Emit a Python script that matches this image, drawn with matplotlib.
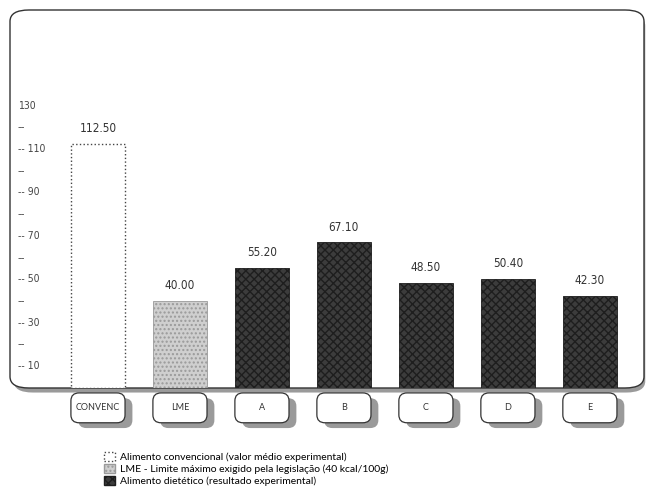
import numpy as np
import matplotlib
matplotlib.use("Agg")
from matplotlib import pyplot as plt
from matplotlib.patches import FancyBboxPatch, Patch
from matplotlib.transforms import blended_transform_factory

categories = ["CONVENC", "LME", "A", "B", "C", "D", "E"]
values = [112.50, 40.00, 55.20, 67.10, 48.50, 50.40, 42.30]
kinds = ["conv", "lme", "diet", "diet", "diet", "diet", "diet"]
tick_labels = [10, 30, 50, 70, 90, 110, 130]
minor_ticks = [20, 40, 60, 80, 100, 120]
legend_labels = ["Alimento convencional (valor médio experimental)",
                 "LME - Limite máximo exigido pela legislação (40 kcal/100g)",
                 "Alimento dietético (resultado experimental)"]

plt.rcParams["font.family"] = ["DejaVu Sans"]

styles = {
    "conv": dict(facecolor="white", edgecolor="#444444", linestyle=":",
                 linewidth=1.0, hatch=None),
    "lme": dict(facecolor="#cfcfcf", edgecolor="#9a9a9a", linestyle="-",
                linewidth=0.6, hatch="...."),
    "diet": dict(facecolor="#3c3c3c", edgecolor="#1e1e1e", linestyle="-",
                 linewidth=0.6, hatch="xxxx"),
}

fig = plt.figure(figsize=(6.52, 4.95), dpi=100)
ax = fig.add_axes([10 / 652, 1 - 388 / 495, 634 / 652, 378 / 495])
ax.set_xlim(-1.073, 6.66)
ax.set_ylim(0, 174)
ax.set_axis_off()

# rounded frame with shadow
shadow = FancyBboxPatch((0.006, -0.012), 0.996, 1.0,
                        boxstyle="round,pad=0,rounding_size=0.03",
                        transform=ax.transAxes, facecolor="#9a9a9a",
                        edgecolor="none", clip_on=False, zorder=0,
                        hatch="....")
ax.add_patch(shadow)
frame = FancyBboxPatch((0, 0), 1.0, 1.0,
                       boxstyle="round,pad=0,rounding_size=0.03",
                       transform=ax.transAxes, facecolor="white",
                       edgecolor="#333333", linewidth=1.0, linestyle="-",
                       clip_on=False, zorder=0.5)
ax.add_patch(frame)

x = np.arange(len(categories))
for xi, v, k in zip(x, values, kinds):
    s = styles[k]
    ax.bar(xi, v, width=0.65, color=s["facecolor"], edgecolor=s["edgecolor"],
           linestyle=s["linestyle"], linewidth=s["linewidth"], hatch=s["hatch"],
           zorder=2)
    ax.text(xi, v + 4, f"{v:.2f}", ha="center", va="bottom", fontsize=8.5,
            fontstretch="condensed", color="#333333", zorder=3)

# y axis marks drawn inside the frame
tr = blended_transform_factory(ax.transAxes, ax.transData)
for t in tick_labels:
    prefix = "" if t == 130 else "-- "
    ax.text(0.012, t, f"{prefix}{t}", transform=tr, ha="left", va="center",
            fontsize=7.5, fontstretch="condensed", color="#444444")
for t in minor_ticks:
    ax.text(0.012, t, "--", transform=tr, ha="left", va="center",
            fontsize=7.5, color="#444444")

# category boxes under the frame
btr = blended_transform_factory(ax.transData, ax.transAxes)
box_w = 0.66
box_h = 0.079
box_style = "round,pad=0,rounding_size=0.1"
for xi, c in zip(x, categories):
    sh = FancyBboxPatch((xi - box_w / 2 + 0.09, -0.013 - box_h - 0.014),
                        box_w, box_h, boxstyle=box_style, mutation_aspect=0.21,
                        transform=btr, facecolor="#9a9a9a", edgecolor="none",
                        hatch="....", clip_on=False, zorder=1)
    ax.add_patch(sh)
    bx = FancyBboxPatch((xi - box_w / 2, -0.013 - box_h), box_w, box_h,
                        boxstyle=box_style, mutation_aspect=0.21,
                        transform=btr, facecolor="white", edgecolor="#333333",
                        linewidth=0.9, clip_on=False, zorder=4)
    ax.add_patch(bx)
    ax.text(xi, -0.013 - box_h / 2, c, transform=btr, ha="center",
            va="center", fontsize=6.5, color="#333333",
            family=["Lato", "DejaVu Sans"], clip_on=False, zorder=5)

handles = [Patch(facecolor=styles[k]["facecolor"],
                 edgecolor=styles[k]["edgecolor"],
                 linestyle=styles[k]["linestyle"], hatch=styles[k]["hatch"])
           for k in ["conv", "lme", "diet"]]
fig.legend(handles, legend_labels, loc="upper left",
           bbox_to_anchor=(100 / 652, 1 - 448 / 495), frameon=False,
           handlelength=1.0, handleheight=1.0,
           handletextpad=0.5, labelspacing=0.15, borderaxespad=0,
           prop={"family": ["Lato", "DejaVu Sans"], "size": 7.5})

fig.savefig("out.png", dpi=100)
